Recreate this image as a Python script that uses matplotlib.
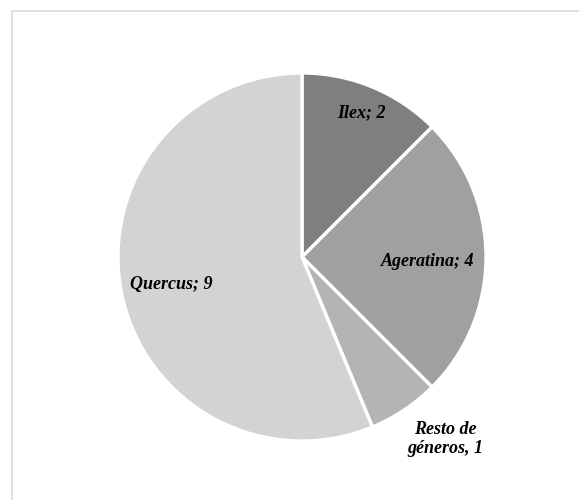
import numpy as np
import matplotlib
matplotlib.use("Agg")
import matplotlib.pyplot as plt
from matplotlib.patches import Rectangle

generos = ["Ilex", "Ageratina", "Resto de\ngéneros", "Quercus"]
valores = [2, 4, 1, 9]
separador = ["; ", "; ", ", ", "; "]
colores = ["#7f7f7f", "#a0a0a0", "#b4b4b4", "#d3d3d3"]
dist_etiqueta = [0.85, 0.685, 1.26, 0.727]
ajuste_angulo = [0, -2, 4.5, 0.5]

fig = plt.figure(figsize=(5.79, 5.0), dpi=100)

# light frame (only top and left edges fall inside the image)
fig.patches.append(Rectangle((12 / 579, -0.1), 1.2, 1 - 11 / 500 + 0.1,
                             transform=fig.transFigure, fill=False,
                             edgecolor="#d9d9d9", linewidth=1.2))

ax = fig.add_axes([118 / 579, 59 / 500, 368 / 579, 368 / 500])
wedges, _ = ax.pie(valores, colors=colores, startangle=90, counterclock=False,
                   radius=1, wedgeprops=dict(edgecolor="white", linewidth=2.4))
ax.set_xlim(-1, 1)
ax.set_ylim(-1, 1)
ax.set_aspect("equal")
ax.axis("off")

for w, g, v, s, d, a in zip(wedges, generos, valores, separador,
                            dist_etiqueta, ajuste_angulo):
    ang = np.deg2rad((w.theta1 + w.theta2) / 2 + a)
    ax.text(d * np.cos(ang), d * np.sin(ang), f"{g}{s}{v}",
            ha="center", va="center", family="Liberation Serif",
            fontweight="bold", fontstyle="italic", fontsize=13,
            linespacing=1.15, clip_on=False)

plt.savefig("out.png", dpi=100)
